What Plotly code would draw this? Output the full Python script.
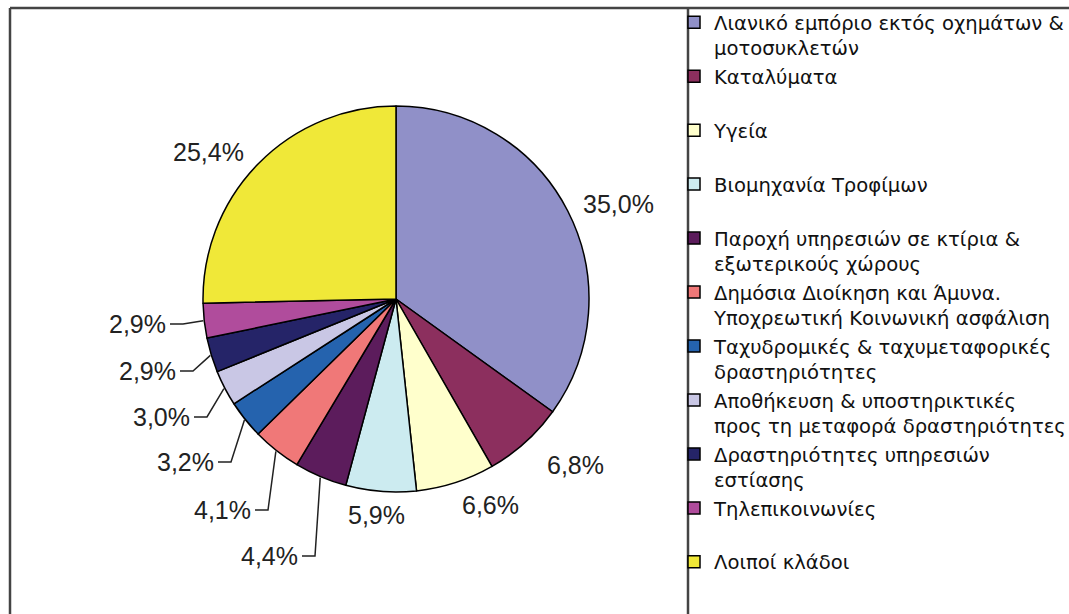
import math
import plotly.graph_objects as go

# ---------------- data ----------------
categories = [
    "Λιανικό εμπόριο εκτός οχημάτων &<br>μοτοσυκλετών",
    "Καταλύματα<br>\u00a0",
    "Υγεία<br>\u00a0",
    "Βιομηχανία Τροφίμων<br>\u00a0",
    "Παροχή υπηρεσιών σε κτίρια &<br>εξωτερικούς χώρους",
    "Δημόσια Διοίκηση και Άμυνα.<br>Υποχρεωτική Κοινωνική ασφάλιση",
    "Ταχυδρομικές & ταχυμεταφορικές<br>δραστηριότητες",
    "Αποθήκευση & υποστηρικτικές<br>προς τη μεταφορά δραστηριότητες",
    "Δραστηριότητες υπηρεσιών<br>εστίασης",
    "Τηλεπικοινωνίες<br>\u00a0",
    "Λοιποί κλάδοι<br>\u00a0",
]
shares = [35.0, 6.8, 6.6, 5.9, 4.4, 4.1, 3.2, 3.0, 2.9, 2.9, 25.4]

# ---------------- style / layout ----------------
colors = ["#9090C8", "#8C2F5E", "#FFFFCC", "#CCEBF0", "#5C1C5C", "#F07878",
          "#2563AE", "#C9C7E5", "#252468", "#B04C9C", "#F0E838"]

W, H = 1069, 614
CX, CY, R = 396, 299, 193          # pie centre / radius in pixels (y from top)
DOM_X = [(CX - R) / W, (CX + R) / W]
DOM_Y = [(H - CY - R) / H, (H - CY + R) / H]

# free-standing label centres (px)
LABEL_POS = {0: (618, 204), 1: (575, 465), 2: (490, 505), 3: (376, 515), 10: (208, 152)}
# labels drawn with leader lines: index -> (line start x px, y px)
LEADER_POS = {4: (302, 556), 5: (255, 510), 6: (218, 462),
              7: (194, 417), 8: (180, 371), 9: (170, 324)}
ELBOW = 13
LABEL_FONT = dict(family="Liberation Sans", size=25, color="#222222")


def fmt(v):
    return f"{v:.1f}".replace(".", ",") + "%"


def px(x, y):
    return x / W, (H - y) / H


labels_txt = [fmt(v) for v in shares]

fig = go.Figure(go.Pie(
    labels=categories,
    values=shares,
    text=labels_txt,
    textinfo="none",
    sort=False,
    direction="clockwise",
    rotation=0,
    marker=dict(colors=colors, line=dict(color="#000000", width=1.5)),
    domain=dict(x=DOM_X, y=DOM_Y),
    hoverinfo="label+text",
))

total = sum(shares)
cum = 0.0
shapes = []
annotations = []
for i, v in enumerate(shares):
    mid = (cum + v / 2) / total * 2 * math.pi
    cum += v
    if i in LABEL_POS:
        p = px(*LABEL_POS[i])
        annotations.append(dict(x=p[0], y=p[1], xref="paper", yref="paper",
                                text=labels_txt[i], showarrow=False,
                                xanchor="center", yanchor="middle", font=LABEL_FONT))
        continue
    ex = CX + (R + 1) * math.sin(mid)
    ey = CY - (R + 1) * math.cos(mid)
    lx, ly = LEADER_POS[i]
    p0 = px(lx, ly)
    p1 = px(lx + ELBOW, ly)
    p2 = px(ex, ey)
    shapes.append(dict(type="path", xref="paper", yref="paper",
                       path=f"M {p0[0]},{p0[1]} L {p1[0]},{p1[1]} L {p2[0]},{p2[1]}",
                       line=dict(color="#222222", width=1.5)))
    annotations.append(dict(x=p0[0] - 2 / W, y=p0[1], xref="paper", yref="paper",
                            text=labels_txt[i], showarrow=False,
                            xanchor="right", yanchor="middle", font=LABEL_FONT))

# chart frame and divider
frame = dict(color="#444444", width=2.5)
shapes += [
    dict(type="line", xref="paper", yref="paper", x0=10 / W, x1=1, y0=(H - 8) / H, y1=(H - 8) / H, line=frame),
    dict(type="line", xref="paper", yref="paper", x0=10 / W, x1=10 / W, y0=(H - 8) / H, y1=0, line=frame),
    dict(type="line", xref="paper", yref="paper", x0=688 / W, x1=688 / W, y0=(H - 8) / H, y1=0, line=frame),
]

fig.update_layout(
    width=W, height=H,
    margin=dict(l=0, r=0, t=0, b=0, autoexpand=False),
    paper_bgcolor="white",
    plot_bgcolor="white",
    font=dict(family="Liberation Sans", color="#111111"),
    shapes=shapes,
    annotations=annotations,
    showlegend=True,
    legend=dict(x=674 / W, y=(H - 3) / H, xanchor="left", yanchor="top",
                font=dict(family="DejaVu Sans", size=19.6, color="#111111"),
                valign="top", itemwidth=30, bgcolor="rgba(0,0,0,0)",
                tracegroupgap=0),
)

post = (
    "document.body.style.margin='0';"
    "document.body.style.overflow='hidden';"
    "document.documentElement.style.overflow='hidden';"
)
fig.write_html("out.html", config={"displayModeBar": False}, post_script=post)
